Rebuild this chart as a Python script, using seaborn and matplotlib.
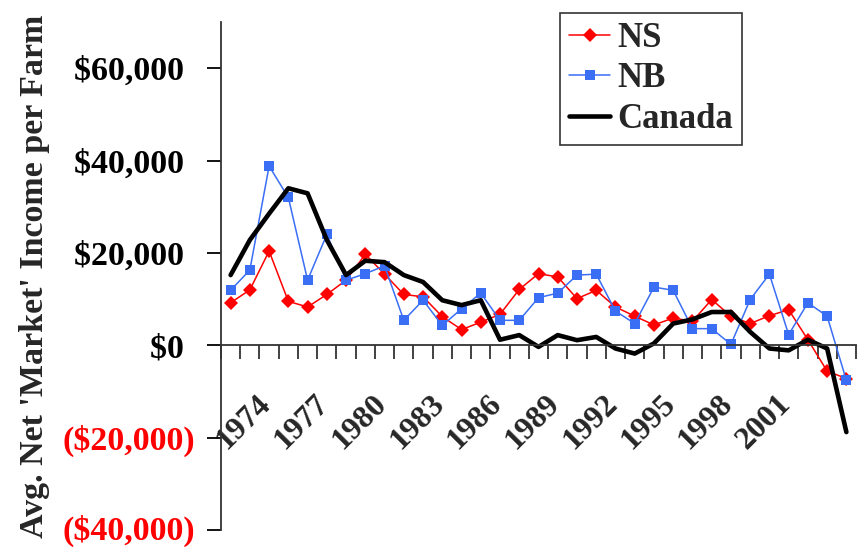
import matplotlib
matplotlib.use("Agg")
import matplotlib.pyplot as plt
import matplotlib.ticker as mticker
import matplotlib.transforms as mtransforms
import seaborn as sns
import pandas as pd

years = list(range(1972, 2005))

ns_income = [9200, 12000, 20400, 9500, 8300, 11000, 14100, 19700, 15400, 11000,
             10500, 6200, 3400, 5000, 6700, 12100, 15500, 14800, 10100, 11900,
             8300, 6300, 4400, 5900, 5200, 9900, 6300, 4700, 6400, 7700,
             1200, -5600, -7200]

nb_income = [11900, 16300, 38800, 32000, 14100, 24000, 14100, 15500, 17200, 5400,
             9750, 4300, 7900, 11300, 5400, 5400, 10300, 11300, 15200, 15400,
             7400, 4700, 12600, 11900, 3600, 3600, 200, 9900, 15400, 2300,
             9200, 6300, -7600]

canada_income = [15200, 22800, 28500, 34000, 32900, 22800, 15200, 18300, 18000, 15200,
                 13700, 9750, 8700, 9750, 1200, 2200, -350, 2200, 1100, 1800,
                 -700, -1800, 400, 4700, 5600, 7200, 7200, 2900, -700, -1100,
                 1200, -700, -18800]

label_years = [1974, 1977, 1980, 1983, 1986, 1989, 1992, 1995, 1998, 2001]
y_ticks = [-40000, -20000, 0, 20000, 40000, 60000]

df = pd.DataFrame({"year": years, "NS": ns_income, "NB": nb_income, "Canada": canada_income})

sns.set_style("white")
plt.rcParams["font.family"] = ["Liberation Serif", "DejaVu Serif"]
plt.rcParams["font.weight"] = "bold"

fig = plt.figure(figsize=(8.65, 5.47), dpi=100)
ax = fig.add_axes([221 / 865, 1 - 530 / 547, 635 / 865, 508 / 547])

sns.lineplot(data=df, x="year", y="NS", ax=ax, color="#FF0000", lw=1.1,
             marker="D", markersize=7, markeredgewidth=0, label="NS")
sns.lineplot(data=df, x="year", y="NB", ax=ax, color="#3A6EF5", lw=1.1,
             marker="s", markersize=6.5, markeredgewidth=0, label="NB")
sns.lineplot(data=df, x="year", y="Canada", ax=ax, color="black", lw=3.3,
             label="Canada")

ax.set_xlim(years[0] - 0.5, years[-1] + 0.5)
ax.set_ylim(-40000, 70000)

# only the left axis and the zero line
for side in ["top", "right"]:
    ax.spines[side].set_visible(False)
ax.spines["bottom"].set_position(("data", 0))
for side in ["left", "bottom"]:
    ax.spines[side].set_color("#333333")
    ax.spines[side].set_linewidth(1.3)

# y ticks, accounting style: positives keep room for the closing paren
ax.set_yticks(y_ticks)
def money(v, pos=None):
    if v < 0:
        return "(${:,.0f})".format(-v)
    return "${:,.0f}\u2004".format(v)
ax.yaxis.set_major_formatter(mticker.FuncFormatter(money))
ax.tick_params(axis="y", direction="out", length=10, width=1.3, color="black",
               labelsize=24.5, pad=8.5, left=True)
for lab, v in zip(ax.get_yticklabels(), y_ticks):
    lab.set_fontweight("bold")
    lab.set_color("#FF0000" if v < 0 else "black")
    if v == y_ticks[0]:
        # nudge the lowest label up a little so it stays inside the figure
        lab.set_transform(lab.get_transform() +
                          mtransforms.ScaledTranslation(0, 3 / 100, fig.dpi_scale_trans))

# x ticks: marks between categories, labels on every third year
ax.set_xticks(label_years)
ax.set_xticklabels([str(y) for y in label_years], rotation=45, ha="right", va="top",
                   fontsize=23, fontweight="bold")
ax.set_xticks([y - 0.5 for y in years] + [years[-1] + 0.5], minor=True)
ax.tick_params(axis="x", which="major", length=0, pad=32, bottom=True)
ax.tick_params(axis="x", which="minor", direction="out", length=10, width=1.3,
               color="#333333", bottom=True)
shift = mtransforms.ScaledTranslation(8 / 100, 0, fig.dpi_scale_trans)
for lab in ax.get_xticklabels():
    lab.set_transform(lab.get_transform() + shift)

ax.set_xlabel("")
ax.set_ylabel("Avg. Net 'Market' Income per Farm", fontsize=24.5, fontweight="bold")
ax.yaxis.set_label_coords(-0.27, 0.5)

leg = ax.legend(loc="upper left", bbox_to_anchor=(560 / 865, 1 - 13 / 547),
                bbox_transform=fig.transFigure, borderaxespad=0, frameon=True,
                fancybox=False, prop={"size": 25, "weight": "bold"},
                handlelength=1.2, borderpad=0.25, labelspacing=0.22,
                handletextpad=0.2)
leg.get_frame().set_edgecolor("black")
leg.get_frame().set_linewidth(1.2)

fig.savefig("out.png", dpi=100)
